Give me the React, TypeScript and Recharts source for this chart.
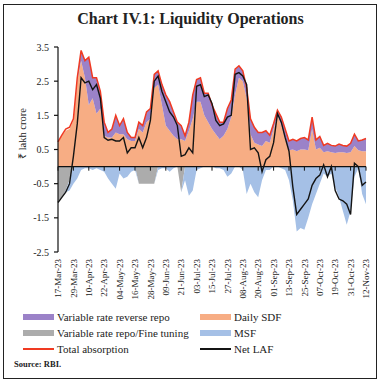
import { Area, ComposedChart, Line, ReferenceLine, XAxis, YAxis } from "recharts"

// dates run every 3 days from 17-Mar-23; ticks every 12 days
const STEP_DAYS = 3
const TICK_DAYS = 12
const TICK_LABELS = [
  "17-Mar-23", "29-Mar-23", "10-Apr-23", "22-Apr-23", "04-May-23", "16-May-23", "28-May-23",
  "09-Jun-23", "21-Jun-23", "03-Jul-23", "15-Jul-23", "27-Jul-23", "08-Aug-23", "20-Aug-23",
  "01-Sep-23", "13-Sep-23", "25-Sep-23", "07-Oct-23", "19-Oct-23", "31-Oct-23", "12-Nov-23",
]
const Y_TICKS = [3.5, 2.5, 1.5, 0.5, -0.5, -1.5, -2.5]

// ₹ lakh crore
const SDF = [
  0.70, 0.90, 1.05, 1.10, 1.35, 2.50, 3.10, 2.60, 1.80, 2.00,
  1.55, 1.70, 0.90, 0.85, 0.85, 1.00, 0.95, 0.95, 0.80, 0.75,
  0.75, 1.10, 1.00, 1.30, 1.40, 2.30, 2.40, 1.80, 1.20, 1.05,
  0.90, 0.80, 0.80, 0.75, 1.05, 1.40, 1.90, 1.90, 1.50, 1.30,
  1.10, 0.95, 0.80, 0.90, 1.10, 1.45, 2.10, 2.60, 2.50, 2.00,
  0.95, 0.70, 0.65, 0.60, 0.75, 0.70, 1.10, 1.50, 1.20, 0.80,
  0.48, 0.50, 0.45, 0.50, 0.50, 0.48, 1.10, 0.50, 0.55, 0.42,
  0.45, 0.42, 0.40, 0.42, 0.42, 0.40, 0.42, 0.60, 0.48, 0.45,
  0.45,
]
const VRRR = [
  0, 0, 0, 0, 0, 0.10, 0.30, 0.50, 1.40, 0.60,
  1.05, 0.50, 0.40, 0.15, 0.25, 0.50, 0.25, 0.45, 0.20, 0.10,
  0.10, 0.20, 0.20, 0.30, 0.30, 0.40, 0.40, 0.60, 0.90, 0.85,
  0.70, 0.50, 0.40, 0.15, 0.25, 0.70, 0.65, 0.70, 0.65, 0.85,
  0.70, 0.60, 0.50, 0.40, 0.60, 0.50, 0.72, 0.35, 0.30, 0.30,
  0.45, 0.45, 0.35, 0.40, 0.30, 0.22, 0.16, 0.15, 0.25, 0.30,
  0.27, 0.30, 0.30, 0.32, 0.35, 0.30, 0.35, 0.28, 0.33, 0.20,
  0.23, 0.20, 0.20, 0.24, 0.20, 0.20, 0.26, 0.35, 0.27, 0.33,
  0.37,
]
const REPO = [
  -1.00, -0.90, -0.70, -0.40, 0, 0, 0, 0, 0, 0,
  0, 0, 0, 0, 0, 0, 0, 0, 0, 0,
  0, -0.50, -0.50, -0.50, -0.50, -0.50, 0, 0, 0, 0,
  0, 0, -0.75, 0, 0, 0, 0, 0, 0, 0,
  0, 0, 0, 0, 0, 0, 0, 0, 0, 0,
  0, 0, 0, 0, 0, 0, 0, 0, 0, 0,
  0, 0, 0, 0, 0, 0, 0, 0, 0, 0,
  0, 0, 0, 0, 0, 0, 0, 0, 0, 0,
  0,
]
const MSF = [
  0, 0, -0.05, -0.30, -0.50, -0.35, -0.10, -0.05, -0.05, -0.10,
  -0.05, -0.10, -0.15, -0.35, -0.50, -0.65, -0.20, -0.35, -0.30, -0.15,
  -0.10, 0, 0, 0, 0, 0, -0.10, -0.05, -0.05, -0.15,
  -0.05, 0, 0, -0.40, -0.85, -0.70, -0.10, -0.05, 0, 0,
  0, -0.05, -0.05, -0.10, -0.30, -0.20, 0, 0, -0.10, -0.80,
  -0.50, -0.75, -0.90, -0.40, -0.10, -0.10, 0, 0, -0.05, -0.10,
  -0.40, -1.00, -1.90, -1.80, -1.85, -1.50, -1.10, -0.80, -0.50, -0.20,
  -0.30, -0.20, -0.60, -0.90, -1.30, -1.70, -1.30, -0.30, -0.05, -0.80,
  -1.10,
]
const TOTAL = [
  0.72, 0.92, 1.10, 1.15, 1.40, 2.60, 3.40, 3.10, 3.20, 2.60,
  2.60, 2.20, 1.30, 1.00, 1.10, 1.50, 1.20, 1.40, 1.00, 0.85,
  0.85, 1.30, 1.20, 1.60, 1.70, 2.70, 2.80, 2.40, 2.10, 1.90,
  1.60, 1.30, 1.20, 0.90, 1.30, 2.10, 2.55, 2.60, 2.15, 2.15,
  1.80, 1.55, 1.30, 1.30, 1.70, 1.95, 2.85, 2.95, 2.80, 2.30,
  1.40, 1.15, 1.00, 1.00, 1.05, 0.92, 1.26, 1.65, 1.45, 1.10,
  0.75, 0.80, 0.75, 0.82, 0.85, 0.78, 1.45, 0.78, 0.88, 0.62,
  0.68, 0.62, 0.60, 0.66, 0.62, 0.60, 0.68, 0.95, 0.75, 0.78,
  0.82,
]
const NET = [
  -1.05, -0.90, -0.75, -0.50, 0.30, 1.25, 2.60, 2.45, 2.50, 2.25,
  2.40, 2.00, 0.85, 0.77, 0.80, 0.75, 0.75, 0.85, 0.40, 0.55,
  0.55, 0.85, 0.55, 0.85, 1.35, 2.50, 2.65, 2.20, 1.90, 1.60,
  1.45, 1.20, 0.30, 0.35, 0.55, 0.40, 2.35, 2.40, 2.05, 2.10,
  1.85, 1.35, 1.20, 1.25, 1.45, 1.50, 2.70, 2.75, 2.65, 2.40,
  0.50, 0.55, 0.40, -0.15, 0.20, 0.30, 0.70, 1.55, 1.30, 0.85,
  0.45, -0.60, -1.40, -1.25, -1.10, -0.95, -0.55, -0.35, -0.25, 0.05,
  -0.30, 0.00, -0.70, -0.95, -1.00, -1.10, -1.40, 0.10, 0.00, -0.55,
  -0.45,
]

const C = {
  vrrr: "#9b82c8",
  sdf: "#f7ad84",
  repo: "#acacac",
  msf: "#a5c0e6",
  total: "#f03a22",
  net: "#141414",
}

const FONT = "'Liberation Serif', 'Times New Roman', serif"

const data = SDF.map((v, i) => ({
  d: i * STEP_DAYS,
  sdf: v,
  vrrr: VRRR[i],
  repo: REPO[i],
  msf: MSF[i],
  total: TOTAL[i],
  net: NET[i],
}))
const xTicks = TICK_LABELS.map((_, i) => i * TICK_DAYS)

const LEGEND = [
  { label: "Variable rate reverse repo", color: C.vrrr, line: false },
  { label: "Daily SDF", color: C.sdf, line: false },
  { label: "Variable rate repo/Fine tuning", color: C.repo, line: false },
  { label: "MSF", color: C.msf, line: false },
  { label: "Total absorption", color: C.total, line: true },
  { label: "Net LAF", color: C.net, line: true },
]

function XTick({ x, y, payload }: any) {
  const label = TICK_LABELS[Math.round(payload.value / TICK_DAYS)]
  return (
    <text x={x} y={y} transform={`rotate(-90, ${x}, ${y})`} textAnchor="end" dy="0.35em"
      fontSize={9} fill="#222" fontFamily={FONT}>
      {label}
    </text>
  )
}

function YLabel({ viewBox }: any) {
  const x = viewBox.x + 22
  const y = viewBox.y + viewBox.height / 2 - 16
  return (
    <text x={x} y={y} transform={`rotate(-90, ${x}, ${y})`} textAnchor="middle" dy="0.35em"
      fontSize={10.5} fill="#222" fontFamily={FONT}>
      ₹ lakh crore
    </text>
  )
}

export default function App() {
  return (
    <div style={{ position: "absolute", left: 0, top: 0, width: 381, height: 383, background: "#fff", fontFamily: FONT }}>
      <div style={{ position: "absolute", left: 3, top: 4, width: 372, height: 373, border: "1.5px solid #222" }} />
      <div style={{ position: "absolute", left: 0, width: 381, top: 10, textAlign: "center", fontSize: 16, fontWeight: "bold", color: "#222" }}>
        Chart IV.1: Liquidity Operations
      </div>
      <div style={{ position: "absolute", left: 0, top: 0 }}>
        <ComposedChart width={381} height={383} data={data} margin={{ top: 47, right: 15, bottom: 0, left: 0 }}>
          <XAxis dataKey="d" type="number" domain={[0, 240]} ticks={xTicks} interval={0}
            axisLine={false} tickLine={false} tickSize={0} tickMargin={7} height={131} tick={<XTick />} />
          <YAxis type="number" domain={[-2.5, 3.5]} ticks={Y_TICKS} interval={0} width={58}
            axisLine={{ stroke: "#111", strokeWidth: 1.2 }} tickLine={{ stroke: "#111", strokeWidth: 1.2 }}
            tickSize={4} tickMargin={5} tick={{ fontSize: 10, fill: "#222", fontFamily: FONT }}
            label={<YLabel />} />
          <Area dataKey="sdf" stackId="pos" type="linear" fill={C.sdf} fillOpacity={1} stroke="none" isAnimationActive={false} />
          <Area dataKey="vrrr" stackId="pos" type="linear" fill={C.vrrr} fillOpacity={1} stroke="none" isAnimationActive={false} />
          <Area dataKey="repo" stackId="neg" type="linear" fill={C.repo} fillOpacity={1} stroke="none" isAnimationActive={false} />
          <Area dataKey="msf" stackId="neg" type="linear" fill={C.msf} fillOpacity={1} stroke="none" isAnimationActive={false} />
          <ReferenceLine y={0} stroke="#111" strokeWidth={1.2} />
          {xTicks.map((t) => (
            <ReferenceLine key={t} segment={[{ x: t, y: 0 }, { x: t, y: -0.12 }]} stroke="#111" strokeWidth={1} />
          ))}
          <Line dataKey="total" type="linear" stroke={C.total} strokeWidth={1.5} dot={false} isAnimationActive={false} />
          <Line dataKey="net" type="linear" stroke={C.net} strokeWidth={1.4} dot={false} isAnimationActive={false} />
        </ComposedChart>
      </div>
      <div style={{ position: "absolute", left: 23, top: 309, width: 350, display: "grid", gridTemplateColumns: "177px 150px", rowGap: 0, fontSize: 11, color: "#222" }}>
        {LEGEND.map((l) => (
          <div key={l.label} style={{ display: "flex", alignItems: "center", height: 16 }}>
            <div style={{ width: 31, height: l.line ? 2 : 6, background: l.color, marginRight: 3 }} />
            <span>{l.label}</span>
          </div>
        ))}
      </div>
      <div style={{ position: "absolute", left: 14, top: 359, fontSize: 8.5, fontWeight: "bold", color: "#222" }}>
        Source: RBI.
      </div>
    </div>
  )
}
